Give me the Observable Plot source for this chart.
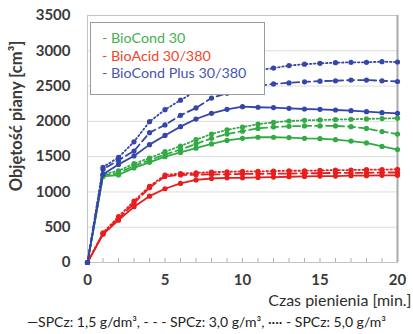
<!DOCTYPE html>
<html><head><meta charset="utf-8">
<script src="https://cdn.jsdelivr.net/npm/d3@7"></script>
<script src="https://cdn.jsdelivr.net/npm/@observablehq/plot@0.6"></script>
<style>
body{margin:0;background:#fff;font-family:Lato,sans-serif;}
#caption{width:413px;text-align:center;font-size:14px;color:#222;line-height:20px;padding-top:4px;white-space:nowrap;}
</style></head><body><div id="chart"></div><div id="caption">—SPCz: 1,5 g/dm³, - - - SPCz: 3,0 g/m³, ···· - SPCz: 5,0 g/m³</div>
<script>
const minutes = [0,1,2,3,4,5,6,7,8,9,10,11,12,13,14,15,16,17,18,19,20];
const xTicks = [0,5,10,15,20];
const yTicks = [0,500,1000,1500,2000,2500,3000,3500];
const products = ["BioCond 30","BioAcid 30/380","BioCond Plus 30/380"];
const doses = ["1,5 g/dm³","3,0 g/m³","5,0 g/m³"];

// BioCond 30 (green)
const greenSolid  = [0,1220,1240,1340,1420,1500,1560,1620,1680,1730,1760,1775,1775,1770,1760,1755,1740,1720,1695,1645,1600];
const greenDashed = [0,1230,1270,1370,1450,1530,1600,1680,1760,1820,1860,1900,1920,1930,1935,1935,1935,1925,1900,1855,1820];
const greenDotted = [0,1250,1300,1400,1480,1570,1650,1740,1820,1880,1920,1960,1985,2005,2015,2020,2025,2030,2035,2040,2045];
// BioAcid 30/380 (red)
const redSolid  = [0,400,600,790,940,1045,1120,1170,1190,1200,1200,1205,1210,1215,1220,1225,1225,1230,1230,1235,1235];
const redDashed = [0,410,620,840,1060,1220,1240,1245,1250,1250,1255,1255,1260,1260,1265,1265,1270,1270,1270,1275,1275];
const redDotted = [0,420,650,870,1080,1240,1260,1270,1280,1285,1290,1290,1295,1300,1300,1305,1310,1310,1315,1315,1320];
// BioCond Plus 30/380 (blue)
const blueSolid  = [0,1250,1390,1510,1670,1800,1925,2033,2114,2170,2208,2200,2195,2185,2175,2170,2161,2151,2137,2123,2114];
const blueDashed = [0,1320,1450,1580,1840,1950,2085,2190,2330,2400,2450,2500,2530,2545,2560,2570,2575,2585,2585,2575,2565];
const blueDotted = [0,1350,1490,1710,1995,2165,2300,2430,2530,2610,2670,2720,2755,2790,2810,2823,2831,2837,2837,2846,2841];

const lineColors = ["#33aa44","#e61e1e","#3546ab"];
const textColors = ["#45b04f","#f0452c","#4656b0"];
const dashes = [null,"7,4","1.5,2.5"];

const seriesValues = [
  [greenSolid, greenDashed, greenDotted],
  [redSolid, redDashed, redDotted],
  [blueSolid, blueDashed, blueDotted]
];

const marks = [
  Plot.ruleY([500,1000,1500,2000,2500,3000], {stroke:"#dcdcdc", strokeWidth:1}),
  Plot.frame({stroke:"#c4c4c4"}),
  Plot.ruleX([20], {stroke:"#a8a8a8", strokeWidth:2}),
  Plot.tickX(minutes, {x:d=>d, stroke:"#b0b0b0", insetTop:243}),
  Plot.axisY({ticks:yTicks, tickFormat:d3.format("d"), tickSize:0, tickPadding:17, fontSize:15, fontWeight:"bold", fill:"#3a3a3a", label:null}),
  Plot.axisX({ticks:xTicks, tickFormat:d3.format("d"), tickSize:0, tickPadding:12, fontSize:15, fontWeight:"bold", fill:"#3a3a3a", label:null}),
  Plot.text(["Objętość piany [cm³]"], {frameAnchor:"left", textAnchor:"middle", lineAnchor:"middle", dx:-71, dy:-23, rotate:-90, fontSize:16.5, fontWeight:"bold", fill:"#3a3a3a"}),
  Plot.text(["Czas pienienia [min.]"], {frameAnchor:"bottom-right", textAnchor:"end", lineAnchor:"middle", dx:14, dy:38, fontSize:16, fill:"#2e2e2e"})
];

products.forEach((p, pi) => {
  doses.forEach((d, di) => {
    const rows = minutes.map((t, i) => ({t, v: seriesValues[pi][di][i]}));
    marks.push(Plot.line(rows, {x:"t", y:"v", stroke:lineColors[pi], strokeWidth:1.8, strokeDasharray:dashes[di]}));
    marks.push(Plot.dot(rows, {x:"t", y:"v", fill:lineColors[pi], r:2.6}));
  });
});

const chart = Plot.plot({
  width:413, height:308,
  marginLeft:87, marginRight:16, marginTop:15, marginBottom:46,
  style:{fontFamily:"Lato, sans-serif", background:"#fff"},
  x:{domain:[0,20]},
  y:{domain:[0,3500]},
  marks
});
document.getElementById("chart").appendChild(chart);

// legend box
const svg = d3.select(chart);
const lg = svg.append("g").attr("text-anchor","start");
lg.append("rect").attr("x",90.5).attr("y",22.5).attr("width",174).attr("height",72)
  .attr("fill","#fff").attr("stroke","#9a9a9a");
products.forEach((p, i) => {
  lg.append("text").attr("x",102).attr("y",38 + i*17.5).attr("dy","0.35em")
    .attr("text-anchor","start")
    .attr("fill",textColors[i]).attr("font-size",14.3).attr("font-family","Lato, sans-serif")
    .text("- " + p);
});
</script></body></html>
